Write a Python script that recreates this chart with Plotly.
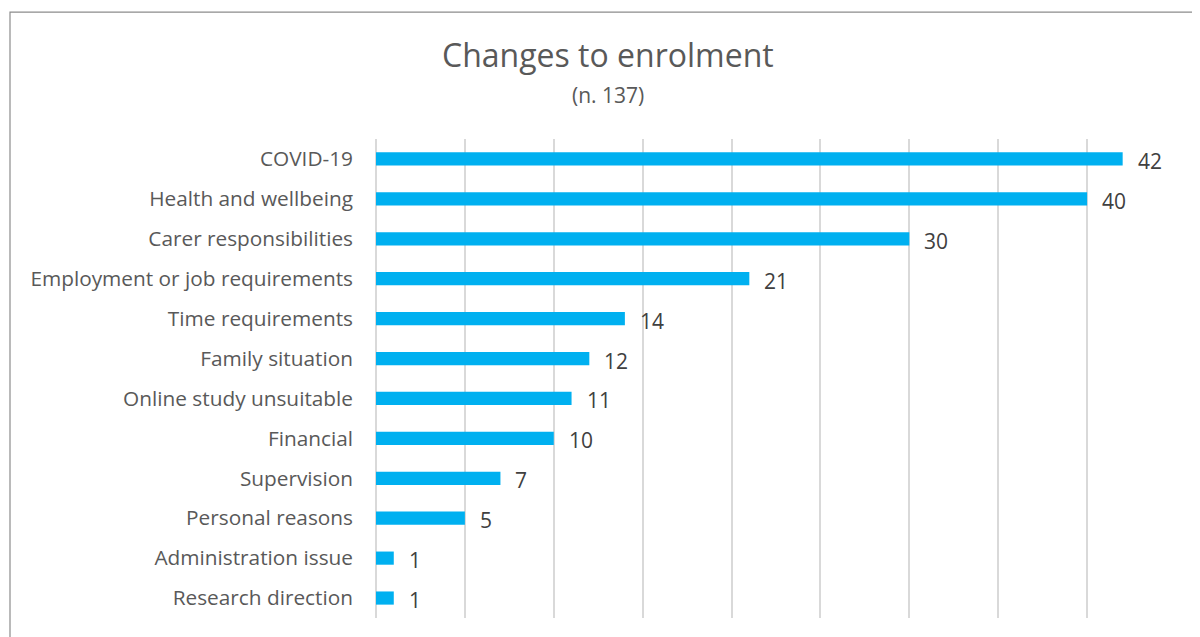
import plotly.graph_objects as go

categories = ["COVID-19", "Health and wellbeing", "Carer responsibilities",
              "Employment or job requirements", "Time requirements", "Family situation",
              "Online study unsuitable", "Financial", "Supervision", "Personal reasons",
              "Administration issue", "Research direction"]
values = [42, 40, 30, 21, 14, 12, 11, 10, 7, 5, 1, 1]
title_text = "Changes to enrolment"
subtitle_text = "(n. 137)"

FONT = "Open Sans, Carlito, Calibri, sans-serif"
fig = go.Figure()
fig.add_trace(go.Bar(
    x=values, y=categories, orientation="h",
    marker=dict(color="#00B0F0", line=dict(width=0)),
    hoverinfo="x+y",
))
for c, v in zip(categories, values):
    fig.add_annotation(x=v, y=c, text=str(v), showarrow=False, xanchor="left",
                       xshift=13, yshift=-2, font=dict(family=FONT, size=21, color="#404040"))

# title and subtitle
fig.add_annotation(xref="paper", yref="paper", x=0.29, y=1.1754, text=title_text,
                   showarrow=False, xanchor="center", yanchor="middle",
                   font=dict(family=FONT, size=32, color="#595959"))
fig.add_annotation(xref="paper", yref="paper", x=0.29, y=1.0919, text=subtitle_text,
                   showarrow=False, xanchor="center", yanchor="middle",
                   font=dict(family=FONT, size=21, color="#595959"))

# page body has an 8px margin: figure coords = screen coords - 8
# outer chart border (left and top visible)
fig.add_shape(type="rect", xref="paper", yref="paper",
              x0=-0.4575, x1=1.2, y0=-0.3, y1=1.265,
              line=dict(color="#8c8c8c", width=1.2), fillcolor="rgba(0,0,0,0)", layer="below")

fig.update_layout(
    width=1200, height=637,
    margin=dict(l=368, r=32, t=131, b=27),
    paper_bgcolor="white", plot_bgcolor="white",
    bargap=0.67,
    showlegend=False,
    font=dict(family=FONT, color="#595959"),
    xaxis=dict(range=[0, 45], dtick=5, showticklabels=False, showgrid=True,
               gridcolor="#d9d9d9", gridwidth=1.5, zeroline=True, zerolinecolor="#d9d9d9",
               zerolinewidth=1.5, fixedrange=True),
    yaxis=dict(autorange="reversed", showgrid=False, zeroline=False, ticks="",
               ticklabelstandoff=22, tickfont=dict(family=FONT, size=20.8, color="#595959"),
               fixedrange=True),
)
fig.write_html("out.html")
